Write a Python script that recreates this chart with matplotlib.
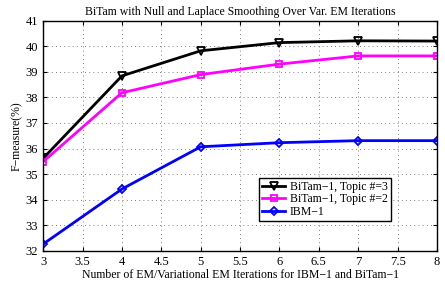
import matplotlib.pyplot as plt
import numpy as np

plt.rcParams['font.family'] = ['Liberation Serif', 'DejaVu Serif']

# データ
iterations = [3, 4, 5, 6, 7, 8]
bitam_topic3 = [35.62, 38.84, 39.82, 40.14, 40.21, 40.2]
bitam_topic2 = [35.49, 38.18, 38.89, 39.30, 39.62, 39.62]
ibm1 = [32.27, 34.42, 36.07, 36.23, 36.31, 36.31]

fig = plt.figure(figsize=(4.45, 2.82), dpi=100)
ax = fig.add_axes([0.097, 0.110, 0.885, 0.817])

ax.plot(iterations, bitam_topic3, color='black', marker='v', mfc='none', mew=1.3,
        markersize=5.5, linewidth=2.0, label='BiTam\u22121, Topic #=3')
ax.plot(iterations, bitam_topic2, color='magenta', marker='s', mfc='none', mew=1.3,
        markersize=5, linewidth=2.0, label='BiTam\u22121, Topic #=2')
ax.plot(iterations, ibm1, color='blue', marker='D', mfc='none', mew=1.3,
        markersize=4.5, linewidth=2.0, label='IBM\u22121')

ax.set_xlim(3, 8)
ax.set_ylim(32, 41)
ax.set_xticks(np.arange(3, 8.01, 0.5))
ax.set_xticklabels(['3', '3.5', '4', '4.5', '5', '5.5', '6', '6.5', '7', '7.5', '8'])
ax.set_yticks(range(32, 42))
ax.tick_params(direction='in', labelsize=9, length=3, top=True, right=True)
ax.grid(True, color='#555555', linestyle=(0, (1, 4)), linewidth=0.6)
for s in ax.spines.values():
    s.set_linewidth(1.0)

ax.set_title('BiTam with Null and Laplace Smoothing Over Var. EM Iterations', fontsize=8.5, pad=4)
ax.set_xlabel('Number of EM/Variational EM Iterations for IBM\u22121 and BiTam\u22121', fontsize=8.5, labelpad=1)
ax.set_ylabel('F\u2212measure(%)', fontsize=8.5, labelpad=2)

leg = ax.legend(loc='lower right', bbox_to_anchor=(0.883, 0.13), fontsize=8.5, fancybox=False,
                edgecolor='black', framealpha=1, borderpad=0.25, labelspacing=0.05,
                handlelength=2.0, handletextpad=0.4, borderaxespad=0)
leg.get_frame().set_linewidth(1.0)

fig.savefig('out.png', dpi=100)
